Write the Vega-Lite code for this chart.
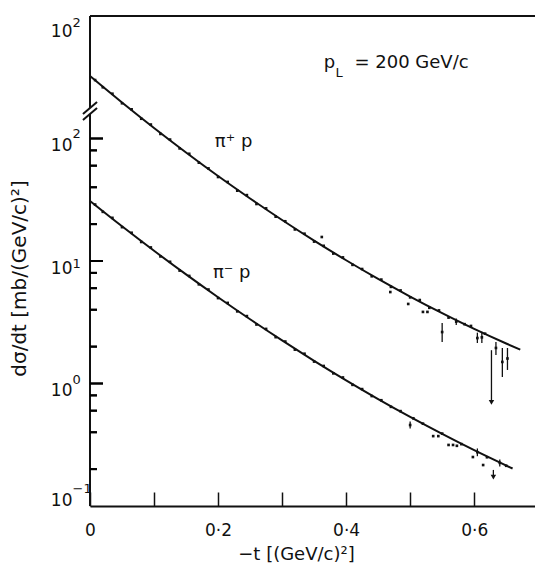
{
  "$schema": "https://vega.github.io/schema/vega-lite/v6.json",
  "width": 445,
  "height": 490,
  "autosize": {"type": "none"},
  "padding": {"left": 90, "top": 16, "right": 0, "bottom": 65},
  "background": "white",
  "config": {"view": {"stroke": null}, "font": "DejaVu Sans"},
  "resolve": {"axis": {"y": "independent"}},
  "datasets": {
    "curves": [
      {"s": "pip", "t": 0, "v": 323.6}, {"s": "pip", "t": 0.05, "v": 196.8}, {"s": "pip", "t": 0.1, "v": 121.9},
      {"s": "pip", "t": 0.15, "v": 76.9}, {"s": "pip", "t": 0.2, "v": 49.4}, {"s": "pip", "t": 0.25, "v": 32.4},
      {"s": "pip", "t": 0.3, "v": 21.6}, {"s": "pip", "t": 0.35, "v": 14.66}, {"s": "pip", "t": 0.4, "v": 10.14},
      {"s": "pip", "t": 0.45, "v": 7.14}, {"s": "pip", "t": 0.5, "v": 5.13}, {"s": "pip", "t": 0.55, "v": 3.75},
      {"s": "pip", "t": 0.6, "v": 2.79}, {"s": "pip", "t": 0.65, "v": 2.12}, {"s": "pip", "t": 0.672, "v": 1.89},
      {"s": "pim", "t": 0, "v": 30.9}, {"s": "pim", "t": 0.05, "v": 19.2}, {"s": "pim", "t": 0.1, "v": 12.12},
      {"s": "pim", "t": 0.15, "v": 7.77}, {"s": "pim", "t": 0.2, "v": 5.06}, {"s": "pim", "t": 0.25, "v": 3.345},
      {"s": "pim", "t": 0.3, "v": 2.246}, {"s": "pim", "t": 0.35, "v": 1.532}, {"s": "pim", "t": 0.4, "v": 1.062},
      {"s": "pim", "t": 0.45, "v": 0.747}, {"s": "pim", "t": 0.5, "v": 0.534}, {"s": "pim", "t": 0.55, "v": 0.388},
      {"s": "pim", "t": 0.6, "v": 0.2858}, {"s": "pim", "t": 0.66, "v": 0.2023}
    ],
    "points": [
      {"s": "pip", "t": 0.008, "v": 300}, {"s": "pip", "t": 0.02, "v": 262}, {"s": "pip", "t": 0.035, "v": 232},
      {"s": "pip", "t": 0.05, "v": 194}, {"s": "pip", "t": 0.065, "v": 173}, {"s": "pip", "t": 0.08, "v": 145},
      {"s": "pip", "t": 0.095, "v": 130}, {"s": "pip", "t": 0.11, "v": 109}, {"s": "pip", "t": 0.125, "v": 98},
      {"s": "pip", "t": 0.14, "v": 83}, {"s": "pip", "t": 0.155, "v": 75}, {"s": "pip", "t": 0.17, "v": 63.5},
      {"s": "pip", "t": 0.185, "v": 57}, {"s": "pip", "t": 0.2, "v": 48.5}, {"s": "pip", "t": 0.215, "v": 44.2},
      {"s": "pip", "t": 0.23, "v": 37.5}, {"s": "pip", "t": 0.245, "v": 34.5}, {"s": "pip", "t": 0.26, "v": 29.2},
      {"s": "pip", "t": 0.275, "v": 26.9}, {"s": "pip", "t": 0.29, "v": 23.0}, {"s": "pip", "t": 0.305, "v": 21.1},
      {"s": "pip", "t": 0.32, "v": 18.1}, {"s": "pip", "t": 0.335, "v": 16.7}, {"s": "pip", "t": 0.35, "v": 14.4},
      {"s": "pip", "t": 0.362, "v": 15.7}, {"s": "pip", "t": 0.365, "v": 13.3}, {"s": "pip", "t": 0.38, "v": 11.5},
      {"s": "pip", "t": 0.395, "v": 10.7}, {"s": "pip", "t": 0.41, "v": 9.3}, {"s": "pip", "t": 0.425, "v": 8.6},
      {"s": "pip", "t": 0.44, "v": 7.5}, {"s": "pip", "t": 0.455, "v": 7.05}, {"s": "pip", "t": 0.469, "v": 5.58},
      {"s": "pip", "t": 0.47, "v": 6.15}, {"s": "pip", "t": 0.485, "v": 5.75}, {"s": "pip", "t": 0.497, "v": 4.46},
      {"s": "pip", "t": 0.5, "v": 5.05}, {"s": "pip", "t": 0.515, "v": 4.8}, {"s": "pip", "t": 0.52, "v": 3.84},
      {"s": "pip", "t": 0.527, "v": 3.84}, {"s": "pip", "t": 0.53, "v": 4.15}, {"s": "pip", "t": 0.545, "v": 3.95},
      {"s": "pip", "t": 0.55, "v": 2.63}, {"s": "pip", "t": 0.56, "v": 3.45}, {"s": "pip", "t": 0.572, "v": 3.2},
      {"s": "pip", "t": 0.585, "v": 3.05}, {"s": "pip", "t": 0.595, "v": 2.95}, {"s": "pip", "t": 0.605, "v": 2.35},
      {"s": "pip", "t": 0.612, "v": 2.38}, {"s": "pip", "t": 0.617, "v": 2.55}, {"s": "pip", "t": 0.634, "v": 1.95},
      {"s": "pip", "t": 0.644, "v": 1.5}, {"s": "pip", "t": 0.652, "v": 1.6},
      {"s": "pim", "t": 0.008, "v": 28.9}, {"s": "pim", "t": 0.02, "v": 25.2}, {"s": "pim", "t": 0.035, "v": 22.5},
      {"s": "pim", "t": 0.05, "v": 18.9}, {"s": "pim", "t": 0.065, "v": 17.0}, {"s": "pim", "t": 0.08, "v": 14.3},
      {"s": "pim", "t": 0.095, "v": 12.9}, {"s": "pim", "t": 0.11, "v": 10.9}, {"s": "pim", "t": 0.125, "v": 9.85},
      {"s": "pim", "t": 0.14, "v": 8.35}, {"s": "pim", "t": 0.155, "v": 7.55}, {"s": "pim", "t": 0.17, "v": 6.45},
      {"s": "pim", "t": 0.185, "v": 5.85}, {"s": "pim", "t": 0.2, "v": 4.98}, {"s": "pim", "t": 0.215, "v": 4.55},
      {"s": "pim", "t": 0.23, "v": 3.88}, {"s": "pim", "t": 0.245, "v": 3.55}, {"s": "pim", "t": 0.26, "v": 3.03},
      {"s": "pim", "t": 0.275, "v": 2.79}, {"s": "pim", "t": 0.29, "v": 2.39}, {"s": "pim", "t": 0.305, "v": 2.2},
      {"s": "pim", "t": 0.32, "v": 1.89}, {"s": "pim", "t": 0.335, "v": 1.75}, {"s": "pim", "t": 0.35, "v": 1.51},
      {"s": "pim", "t": 0.365, "v": 1.39}, {"s": "pim", "t": 0.38, "v": 1.21}, {"s": "pim", "t": 0.395, "v": 1.12},
      {"s": "pim", "t": 0.41, "v": 0.975}, {"s": "pim", "t": 0.425, "v": 0.9}, {"s": "pim", "t": 0.44, "v": 0.79},
      {"s": "pim", "t": 0.455, "v": 0.73}, {"s": "pim", "t": 0.47, "v": 0.645}, {"s": "pim", "t": 0.485, "v": 0.595},
      {"s": "pim", "t": 0.5, "v": 0.458}, {"s": "pim", "t": 0.505, "v": 0.52}, {"s": "pim", "t": 0.52, "v": 0.47},
      {"s": "pim", "t": 0.536, "v": 0.372}, {"s": "pim", "t": 0.544, "v": 0.372}, {"s": "pim", "t": 0.55, "v": 0.39},
      {"s": "pim", "t": 0.56, "v": 0.315}, {"s": "pim", "t": 0.567, "v": 0.315}, {"s": "pim", "t": 0.573, "v": 0.31},
      {"s": "pim", "t": 0.58, "v": 0.32}, {"s": "pim", "t": 0.598, "v": 0.251}, {"s": "pim", "t": 0.605, "v": 0.275},
      {"s": "pim", "t": 0.614, "v": 0.216}, {"s": "pim", "t": 0.62, "v": 0.25}, {"s": "pim", "t": 0.64, "v": 0.225},
      {"s": "pim", "t": 0.65, "v": 0.213}
    ],
    "bars": [
      {"t": 0.55, "v": 2.18, "v2": 3.12}, {"t": 0.572, "v": 3.0, "v2": 3.4},
      {"t": 0.605, "v": 2.14, "v2": 2.6}, {"t": 0.612, "v": 2.14, "v2": 2.65},
      {"t": 0.634, "v": 1.71, "v2": 2.18}, {"t": 0.644, "v": 1.13, "v2": 1.95},
      {"t": 0.652, "v": 1.29, "v2": 1.95}, {"t": 0.627, "v": 0.72, "v2": 1.87},
      {"t": 0.5, "v": 0.43, "v2": 0.49}, {"t": 0.605, "v": 0.255, "v2": 0.295},
      {"t": 0.64, "v": 0.21, "v2": 0.24}, {"t": 0.63, "v": 0.175, "v2": 0.197}
    ],
    "arrows": [
      {"t": 0.627, "v": 0.7}, {"t": 0.63, "v": 0.172}
    ],
    "frame": [
      {"t": 0, "t2": 0, "v": 0.1, "v2": 158.5},
      {"t": 0, "t2": 0, "v": 177.4, "v2": 1000},
      {"t": 0, "t2": 0.695, "v": 1000, "v2": 1000},
      {"t": -0.011, "t2": 0.011, "v": 158.5, "v2": 198.6},
      {"t": -0.011, "t2": 0.011, "v": 141.6, "v2": 177.4}
    ],
    "yticks": [
      {"t": 0, "t2": 0.0203, "v": 1, "v2": 1},
      {"t": 0, "t2": 0.0203, "v": 10, "v2": 10},
      {"t": 0, "t2": 0.0203, "v": 100, "v2": 100},
      {"t": 0, "t2": 0.0109, "v": 0.2, "v2": 0.2},
      {"t": 0, "t2": 0.0109, "v": 0.4, "v2": 0.4},
      {"t": 0, "t2": 0.0109, "v": 0.6, "v2": 0.6},
      {"t": 0, "t2": 0.0109, "v": 0.8, "v2": 0.8},
      {"t": 0, "t2": 0.0109, "v": 2, "v2": 2},
      {"t": 0, "t2": 0.0109, "v": 4, "v2": 4},
      {"t": 0, "t2": 0.0109, "v": 6, "v2": 6},
      {"t": 0, "t2": 0.0109, "v": 8, "v2": 8},
      {"t": 0, "t2": 0.0109, "v": 20, "v2": 20},
      {"t": 0, "t2": 0.0109, "v": 40, "v2": 40},
      {"t": 0, "t2": 0.0109, "v": 60, "v2": 60},
      {"t": 0, "t2": 0.0109, "v": 80, "v2": 80}
    ],
    "majorMarks": [{"t": 0.0101, "v": 1}, {"t": 0.0101, "v": 10}, {"t": 0.0101, "v": 100}],
    "minorMarks": [
      {"t": 0.0055, "v": 0.2}, {"t": 0.0055, "v": 0.4}, {"t": 0.0055, "v": 0.6}, {"t": 0.0055, "v": 0.8},
      {"t": 0.0055, "v": 2}, {"t": 0.0055, "v": 4}, {"t": 0.0055, "v": 6}, {"t": 0.0055, "v": 8},
      {"t": 0.0055, "v": 20}, {"t": 0.0055, "v": 40}, {"t": 0.0055, "v": 60}, {"t": 0.0055, "v": 80}
    ],
    "labels": [
      {"t": 0.195, "v": 85.3, "text": "π⁺ p"},
      {"t": 0.192, "v": 7.26, "text": "π⁻ p"},
      {"t": 0.365, "v": 377, "text": "p"},
      {"t": 0.413, "v": 377, "text": "= 200 GeV/c"}
    ],
    "sub": [
      {"t": 0.389, "v": 318, "text": "L"}
    ]
  },
  "encoding": {
    "x": {
      "field": "t", "type": "quantitative",
      "scale": {"domain": [0, 0.695], "nice": false, "zero": false},
      "axis": {
        "values": [0, 0.1, 0.2, 0.3, 0.4, 0.5, 0.6],
        "labelExpr": "datum.value == 0 ? '0' : datum.value == 0.2 ? '0·2' : datum.value == 0.4 ? '0·4' : datum.value == 0.6 ? '0·6' : ''",
        "grid": false, "domain": true, "domainColor": "#111", "domainWidth": 2,
        "ticks": true, "tickSize": -14, "tickWidth": 1.5, "tickColor": "#111",
        "labelFontSize": 17, "labelColor": "#111", "labelPadding": 30, "labelFlush": false,
        "title": "−t [(GeV/c)²]", "titleFontSize": 18, "titleFontWeight": "normal", "titleColor": "#111",
        "titleX": 206, "titlePadding": 7
      }
    },
    "y": {
      "field": "v", "type": "quantitative",
      "scale": {"type": "log", "domain": [0.1, 1000], "nice": false},
      "axis": null
    }
  },
  "layer": [
    {
      "data": {"name": "frame"},
      "mark": {"type": "rule", "color": "#111", "strokeWidth": 2},
      "encoding": {
        "x2": {"field": "t2"}, "y2": {"field": "v2"},
        "y": {
          "field": "v", "type": "quantitative",
          "scale": {"type": "log", "domain": [0.1, 1000], "nice": false},
          "axis": {
            "orient": "left",
            "values": [0.1, 1, 10, 100, 1000],
            "labelExpr": "'10'",
            "grid": false, "domain": false,
            "ticks": true, "tickOpacity": 0, "tickSize": -13,
            "labelOffset": {"condition": [
              {"test": "datum.value == 1000", "value": 15},
              {"test": "datum.value == 0.1", "value": -6}
            ], "value": 7},
            "labelFontSize": 17, "labelColor": "#111", "labelPadding": 31, "labelFlush": false,
            "title": "dσ/dt [mb/(GeV/c)²]", "titleFontSize": 20, "titleFontWeight": "normal", "titleColor": "#111",
            "titleX": -61, "titleY": 262
          }
        }
      }
    },
    {
      "data": {"name": "curves"},
      "mark": {"type": "line", "color": "#111", "strokeWidth": 2, "interpolate": "monotone"},
      "encoding": {"detail": {"field": "s"}}
    },
    {
      "data": {"name": "points"},
      "mark": {"type": "point", "shape": "square", "filled": true, "color": "#111", "size": 7, "opacity": 1},
      "encoding": {
        "y": {
          "field": "v", "type": "quantitative",
          "scale": {"type": "log", "domain": [0.1, 1000], "nice": false},
          "axis": {
            "orient": "left",
            "values": [0.1, 1, 10, 100, 1000],
            "labelExpr": "datum.value == 0.1 ? '−1' : datum.value == 1 ? '0' : datum.value == 10 ? '1' : '2'",
            "grid": false, "domain": false, "title": null,
            "ticks": false, "tickSize": 0,
            "labelAlign": "left",
            "labelOffset": {"condition": [
              {"test": "datum.value == 1000", "value": 6},
              {"test": "datum.value == 0.1", "value": -18},
              {"test": "datum.value == 1", "value": -4},
              {"test": "datum.value == 100", "value": -5}
            ], "value": 2},
            "labelFontSize": 13, "labelColor": "#111", "labelPadding": 18, "labelFlush": false
          }
        }
      }
    },
    {
      "data": {"name": "bars"},
      "mark": {"type": "rule", "color": "#111", "strokeWidth": 1.3},
      "encoding": {"y2": {"field": "v2"}}
    },
    {
      "data": {"name": "arrows"},
      "mark": {"type": "point", "shape": "triangle-down", "filled": true, "color": "#111", "size": 30, "opacity": 1}
    },
    {
      "data": {"name": "labels"},
      "mark": {"type": "text", "align": "left", "baseline": "alphabetic", "fontSize": 18, "color": "#111"},
      "encoding": {"text": {"field": "text"}}
    },
    {
      "data": {"name": "sub"},
      "mark": {"type": "text", "align": "center", "baseline": "alphabetic", "fontSize": 13, "color": "#111"},
      "encoding": {"text": {"field": "text"}}
    },
    {
      "data": {"name": "yticks"},
      "mark": {"type": "rule", "color": "#000", "strokeWidth": 2, "opacity": 1},
      "encoding": {"x2": {"field": "t2"}, "y2": {"field": "v2"}}
    },
    {
      "data": {"name": "majorMarks"},
      "mark": {"type": "tick", "orient": "horizontal", "color": "#000", "size": 13, "thickness": 2, "opacity": 1}
    },
    {
      "data": {"name": "minorMarks"},
      "mark": {"type": "tick", "orient": "horizontal", "color": "#000", "size": 7, "thickness": 2, "opacity": 1}
    }
  ]
}
